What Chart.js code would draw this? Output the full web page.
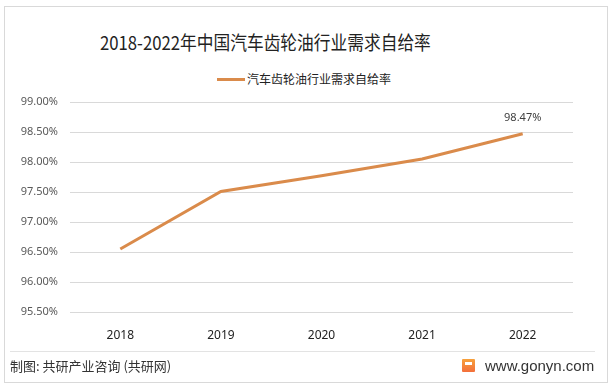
<!DOCTYPE html>
<html><head><meta charset="utf-8">
<script src="https://cdn.jsdelivr.net/npm/chart.js@4"></script>
<style>
html,body{margin:0;padding:0;background:#fff;}
#wrap{position:relative;width:614px;height:389px;overflow:hidden;font-family:"Noto Sans CJK SC","Noto Sans",sans-serif;}
#frame{position:absolute;left:4px;top:6px;width:604px;height:377px;border:1px solid #d9d9d9;box-sizing:border-box;}
#title{position:absolute;left:100px;top:28px;font-size:19px;color:#222;white-space:nowrap;line-height:28px;transform:scaleX(0.88);transform-origin:0 50%;}
#legend{position:absolute;left:217px;top:70px;font-size:12px;color:#222;white-space:nowrap;line-height:18px;}
#legend i{display:inline-block;width:28px;height:3px;background:#DA8B4B;vertical-align:middle;margin-right:2px;position:relative;top:-1px;}
#sep{position:absolute;left:10px;top:351px;width:585px;height:1px;background:#e3e3e3;}
#src{position:absolute;left:10px;top:357px;font-size:13px;color:#333;white-space:nowrap;line-height:18px;}
#site{position:absolute;left:485px;top:356px;font-size:15px;color:#333;white-space:nowrap;line-height:20px;font-family:"Liberation Sans",Arial,sans-serif;}
#icon{position:absolute;left:462px;top:359px;width:13px;height:13px;background:linear-gradient(#f7a13b,#f36f3b);border-radius:1px;}
#icon:after{content:"";position:absolute;left:3px;top:3px;width:7px;height:3px;background:#fff;}
canvas{position:absolute;left:0;top:0;}
</style></head>
<body><div id="wrap">
<div id="frame"></div>
<div id="title">2018-2022年中国汽车齿轮油行业需求自给率</div>
<div id="legend"><i></i>汽车齿轮油行业需求自给率</div>
<canvas id="c" width="614" height="389"></canvas>
<div id="sep"></div>
<div id="src">制图: 共研产业咨询 (共研网)</div>
<div id="icon"></div>
<div id="site">www.gonyn.com</div>
</div>
<script>
const categories = ["2018","2019","2020","2021","2022"];
const seriesName = "汽车齿轮油行业需求自给率";
const values = [96.55, 97.51, 97.77, 98.05, 98.47];
const yTicks = [95.5, 96.0, 96.5, 97.0, 97.5, 98.0, 98.5, 99.0];
const labeledIndex = [4];

const lastLabel = {
  id: 'lastLabel',
  afterDatasetsDraw(chart) {
    const ctx = chart.ctx;
    const meta = chart.getDatasetMeta(0);
    ctx.save();
    ctx.font = '11px "Noto Sans", sans-serif';
    ctx.fillStyle = '#404040';
    ctx.textAlign = 'center';
    ctx.textBaseline = 'bottom';
    labeledIndex.forEach(i => {
      const p = meta.data[i];
      ctx.fillText(values[i].toFixed(2) + '%', p.x, p.y - 10);
    });
    ctx.restore();
  }
};

new Chart(document.getElementById('c'), {
  type: 'line',
  data: {
    labels: categories,
    datasets: [{
      label: seriesName,
      data: values,
      borderColor: '#DA8B4B',
      backgroundColor: '#DA8B4B',
      borderWidth: 3,
      pointRadius: 0,
      tension: 0,
      fill: false
    }]
  },
  options: {
    responsive: false,
    animation: false,
    layout: { padding: { top: 102, left: 0, right: 41, bottom: 47 } },
    plugins: { legend: { display: false }, title: { display: false }, tooltip: { enabled: false } },
    scales: {
      x: {
        offset: true,
        grid: { display: false },
        border: { display: false },
        ticks: { color: '#222', font: { size: 12, family: '"Noto Sans", sans-serif' }, padding: 8 },
        afterFit(s) { s.height = 30; }
      },
      y: {
        min: 95.5, max: 99,
        grid: { color: '#d9d9d9', lineWidth: 1, drawTicks: false },
        border: { display: false },
        afterBuildTicks(s) { s.ticks = yTicks.map(v => ({ value: v })); },
        ticks: {
          color: '#595959', padding: 12,
          font: { size: 11, family: '"Noto Sans", sans-serif' },
          callback: v => Number(v).toFixed(2) + '%'
        },
        afterFit(s) { s.width = 70; }
      }
    }
  },
  plugins: [lastLabel]
});
</script>
</body></html>
